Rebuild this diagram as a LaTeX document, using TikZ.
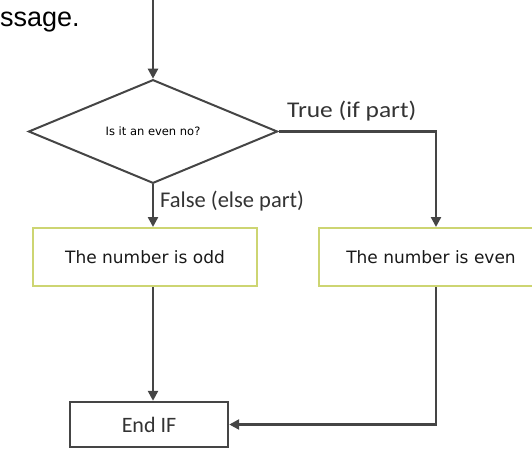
\documentclass[tikz,border=0pt]{standalone}
\usepackage{fontspec}
\setmainfont{Liberation Sans}
\newfontfamily\carl{Carlito}
\newfontfamily\dvs{DejaVu Sans}
\usetikzlibrary{shapes.geometric,arrows.meta}
\definecolor{lineg}{HTML}{454545}
\definecolor{boxg}{HTML}{CDD572}
\definecolor{labg}{HTML}{333333}
\tikzset{
  arr/.style={draw=lineg, line width=2.4pt, -{Triangle[length=10pt,width=10pt]}},
  conn/.style={draw=lineg, line width=2.4pt},
  procbox/.style={draw=boxg, line width=2pt, minimum width=224pt, minimum height=58pt, inner sep=0pt, font=\dvs\fontsize{17}{19}\selectfont, text=black!90},
  decbox/.style={diamond, draw=lineg, line width=2pt, minimum width=249pt, minimum height=73pt, inner sep=0pt, font=\dvs\fontsize{11.5}{13}\selectfont},
  endbox/.style={draw=lineg, line width=2.4pt, minimum width=158pt, minimum height=45pt, inner sep=0pt, font=\carl\fontsize{22}{24}\selectfont, text=labg},
  lab/.style={anchor=base west, inner sep=0pt, font=\carl\fontsize{22.5}{26}\selectfont, text=labg}
}
\begin{document}
\begin{tikzpicture}[x=1pt,y=-1pt]
\useasboundingbox (0,0) rectangle (532,449);
\node[anchor=base west, inner sep=0pt, font=\fontsize{27}{30}\selectfont] (msg) at (0,27) {ssage.};
\coordinate (start) at (153,0);
\node[decbox] (dec) at (153,131.5) {\raisebox{-3pt}{Is it an even no?}};
\node[procbox] (odd) at (145,257) {The number is odd};
\node[procbox] (even) at (431,257) {The number is even};
\node[endbox] (endif) at (149,424.5) {End IF};
\coordinate (tcol) at (436,257);
\coordinate (fcol) at (153,257);
\draw[arr] (start) -- (dec.north);
\draw[arr] (dec.south) -- (odd.north -| fcol);
\draw[arr] (dec.east) -| (even.north -| tcol);
\draw[arr] (odd.south -| fcol) -- (endif.north -| fcol);
\draw[arr] (even.south -| tcol) |- (endif.east);
\node[lab] (tlab) at (287,118) {\scalebox{1.13}[1]{True (if part)}};
\node[lab] (flab) at (160,207) {False (else part)};
\end{tikzpicture}
\end{document}
